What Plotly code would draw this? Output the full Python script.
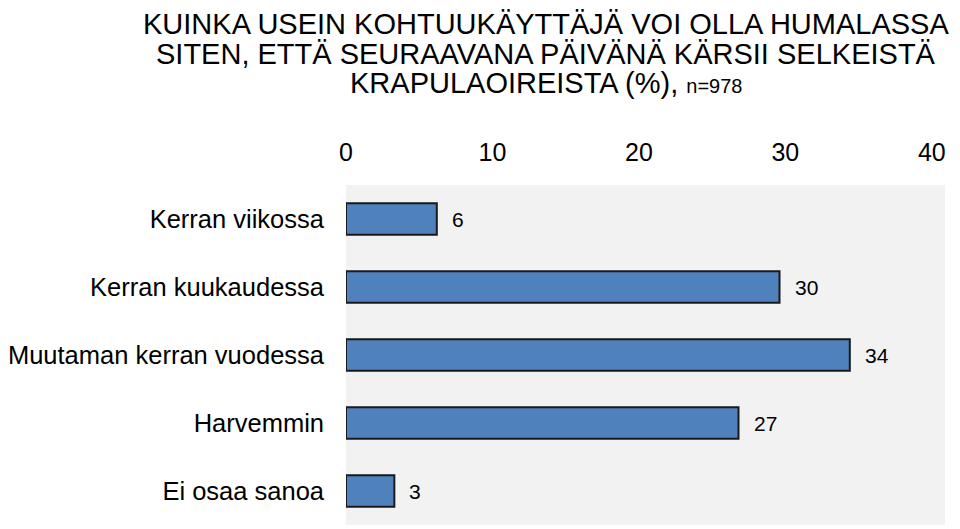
import plotly.graph_objects as go

categories = ["Kerran viikossa", "Kerran kuukaudessa", "Muutaman kerran vuodessa",
              "Harvemmin", "Ei osaa sanoa"]
values = [6.2, 29.6, 34.4, 26.8, 3.3]
tick_vals = [0, 10, 20, 30, 40]

title_lines = [
    "KUINKA USEIN KOHTUUKÄYTTÄJÄ VOI OLLA HUMALASSA",
    "SITEN, ETTÄ SEURAAVANA PÄIVÄNÄ KÄRSII SELKEISTÄ",
    "KRAPULAOIREISTA (%), <span style='font-size:20px'>n=978</span>",
]
title_y = [16, 45.5, 75]   # line centres in px from top of the figure

fig = go.Figure(go.Bar(
    x=values, y=categories, orientation="h",
    marker=dict(color="#4f81bd", line=dict(color="#1a1a1a", width=2)),
    width=0.46,
    hoverinfo="x+y",
))

# value labels to the right of the bars
for cat, val in zip(categories, values):
    fig.add_annotation(x=val, y=cat, text=f"{val:.0f}", showarrow=False,
                       xanchor="left", xshift=13, font=dict(size=21, color="black"))

# three-line title, placed line by line
for line, ypx in zip(title_lines, title_y):
    fig.add_annotation(x=0.334, xref="paper", xanchor="center",
                       y=(517 - ypx) / 340, yref="paper", yanchor="middle",
                       text=line, showarrow=False,
                       font=dict(size=29, color="black"))

fig.update_layout(
    width=960, height=529,
    margin=dict(l=338, r=23, t=177, b=12),
    paper_bgcolor="white", plot_bgcolor="#f2f2f2",
    font=dict(family="Liberation Sans, Arial, sans-serif", color="black"),
    showlegend=False,
)
fig.update_xaxes(side="top", range=[0, 40.9], tickvals=tick_vals, showgrid=False,
                 zeroline=False, showline=False, tickfont=dict(size=25),
                 ticklabelstandoff=18, automargin=False)
fig.update_yaxes(autorange="reversed", showgrid=False, showline=False,
                 tickfont=dict(size=25.5), ticklabelstandoff=21, automargin=False)

fig.write_html("out.html")
